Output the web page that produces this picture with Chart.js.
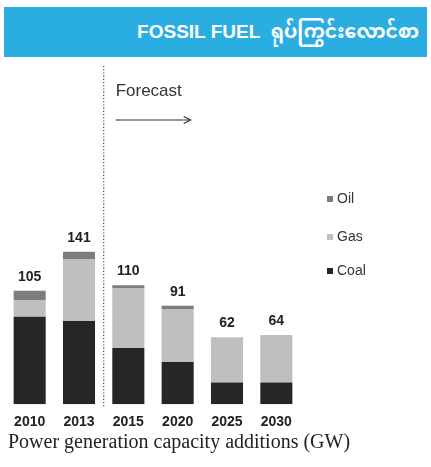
<!DOCTYPE html>
<html>
<head>
<meta charset="utf-8">
<script src="https://cdn.jsdelivr.net/npm/chart.js@4"></script>
<style>
  html, body { margin:0; padding:0; background:#fff; }
  body { width:431px; height:467px; position:relative; overflow:hidden; }
  #header { position:absolute; left:4px; top:7px; width:423px; height:50px; background:#2aaee1; }
  #header span { position:absolute; right:8px; top:0; line-height:50px; color:#fff; font-family:'Liberation Sans', Arial, 'Noto Sans Myanmar', 'Noto Sans', sans-serif; font-weight:bold; font-size:19px; white-space:nowrap; }
  #wrap { position:absolute; left:0; top:0; width:431px; height:467px; }
  #caption { position:absolute; left:8px; top:430px; font-family:'Liberation Serif', 'Times New Roman', serif; font-size:20px; color:#222; white-space:nowrap; }
</style>
</head>
<body>
<div id="wrap"><canvas id="c"></canvas></div>
<div id="header"><span>FOSSIL FUEL&nbsp; ရုပ်ကြွင်းလောင်စာ</span></div>
<div id="caption">Power generation capacity additions (GW)</div>
<script>
const categories = ['2010', '2013', '2015', '2020', '2025', '2030'];
const coal = [81, 77, 52, 39, 20, 20];
const gas = [15, 57, 55, 49, 42, 44];
const oil = [9, 7, 3, 3, 0, 0];
const totals = [105, 141, 110, 91, 62, 64];
const forecastLabel = 'Forecast';

const extras = {
  id: 'extras',
  afterDatasetsDraw(chart) {
    const ctx = chart.ctx;
    const x = chart.scales.x;
    const area = chart.chartArea;
    ctx.save();
    ctx.fillStyle = '#222';
    ctx.font = 'bold 14px "Liberation Sans", Arial, sans-serif';
    ctx.textAlign = 'center';
    ctx.textBaseline = 'middle';
    totals.forEach((t, i) => {
      const px = x.getPixelForValue(i);
      const py = chart.scales.y.getPixelForValue(t);
      ctx.fillText(String(t), px, py - 14);
    });
    // forecast divider
    const dx = (x.getPixelForValue(1) + x.getPixelForValue(2)) / 2;
    ctx.strokeStyle = '#555';
    ctx.lineWidth = 1.3;
    ctx.setLineDash([1.2, 2]);
    ctx.beginPath();
    ctx.moveTo(dx, 66);
    ctx.lineTo(dx, area.bottom + 4);
    ctx.stroke();
    ctx.setLineDash([]);
    // forecast text & arrow
    ctx.textAlign = 'left';
    ctx.font = '17px "Liberation Sans", Arial, sans-serif';
    ctx.fillStyle = '#333';
    ctx.fillText(forecastLabel, dx + 12, 91);
    ctx.strokeStyle = '#333';
    ctx.lineWidth = 1.2;
    ctx.beginPath();
    ctx.moveTo(dx + 12, 120);
    ctx.lineTo(dx + 86, 120);
    ctx.stroke();
    ctx.beginPath();
    ctx.moveTo(dx + 80, 116.5);
    ctx.lineTo(dx + 87, 120);
    ctx.lineTo(dx + 80, 123.5);
    ctx.stroke();
    // legend
    const ds = chart.data.datasets;
    const ys = [199, 237, 271];
    ctx.font = '14px "Liberation Sans", Arial, sans-serif';
    ctx.textBaseline = 'middle';
    for (let k = 0; k < ds.length; k++) {
      const d = ds[ds.length - 1 - k];
      ctx.fillStyle = d.backgroundColor;
      ctx.fillRect(327, ys[k] - 3, 6, 6);
      ctx.fillStyle = '#333';
      ctx.fillText(d.label, 337, ys[k]);
    }
    ctx.restore();
  }
};

new Chart(document.getElementById('c'), {
  type: 'bar',
  data: {
    labels: categories,
    datasets: [
      { label: 'Coal', data: coal, backgroundColor: '#262626' },
      { label: 'Gas', data: gas, backgroundColor: '#bfbfbf' },
      { label: 'Oil', data: oil, backgroundColor: '#7d7d7d' }
    ]
  },
  options: {
    responsive: true,
    maintainAspectRatio: false,
    animation: false,
    layout: { padding: { left: 5, right: 130, top: 80, bottom: 26 } },
    datasets: { bar: { barPercentage: 0.65, categoryPercentage: 1 } },
    plugins: { legend: { display: false }, tooltip: { enabled: false } },
    scales: {
      x: {
        stacked: true,
        grid: { display: false, drawTicks: false },
        border: { display: false },
        ticks: { color: '#222', padding: 10, font: { family: '"Liberation Sans", Arial, sans-serif', size: 14, weight: 'bold' } }
      },
      y: {
        stacked: true,
        display: false,
        min: 0,
        max: 300
      }
    }
  },
  plugins: [extras]
});
</script>
</body>
</html>
